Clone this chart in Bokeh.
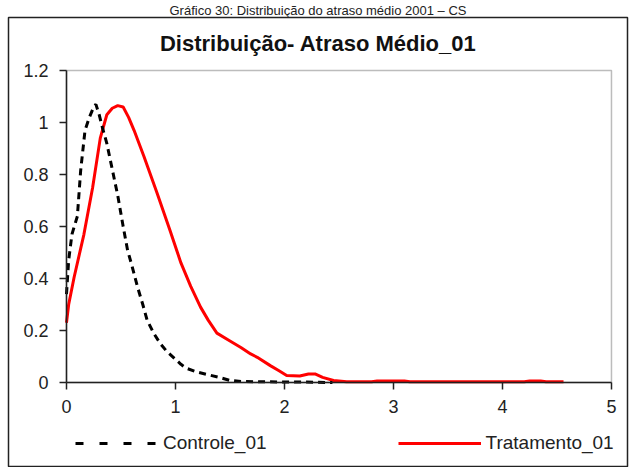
from bokeh.plotting import figure
from bokeh.models import (Range1d, FixedTicker, PrintfTickFormatter, Legend, LegendItem,
                          Label, BoxAnnotation)
from bokeh.embed import file_html
from bokeh.resources import INLINE

caption = "Gráfico 30: Distribuição do atraso médio 2001 – CS"
title_text = "Distribuição- Atraso Médio_01"
x_ticks = [0, 1, 2, 3, 4, 5]
y_ticks = [0, 0.2, 0.4, 0.6, 0.8, 1.0, 1.2]

ctrl_name = "Controle_01"
ctrl_x = [0, 0.02, 0.05, 0.1, 0.13, 0.17, 0.21, 0.25, 0.27, 0.3, 0.33, 0.37, 0.42, 0.47,
          0.52, 0.56, 0.6, 0.65, 0.7, 0.74, 0.8, 0.86, 0.92, 0.98, 1.05, 1.1, 1.2, 1.3,
          1.4, 1.5, 1.6, 1.8, 2.0, 2.2, 2.44]
ctrl_y = [0.34, 0.47, 0.57, 0.64, 0.815, 0.97, 1.02, 1.06, 1.07, 1.03, 0.98, 0.92, 0.82, 0.72,
          0.6, 0.51, 0.45, 0.37, 0.3, 0.24, 0.19, 0.15, 0.12, 0.097, 0.07, 0.055, 0.04, 0.03,
          0.02, 0.008, 0.004, 0.003, 0.002, 0.002, 0.0]

treat_name = "Tratamento_01"
treat_x = [0, 0.02, 0.07, 0.16, 0.24, 0.31, 0.37, 0.42, 0.47, 0.52, 0.57, 0.62, 0.71, 0.83,
           0.95, 1.05, 1.14, 1.23, 1.3, 1.38, 1.5, 1.6, 1.69, 1.75, 1.87, 1.95, 2.02, 2.14,
           2.22, 2.28, 2.35, 2.45, 2.57, 2.8, 2.85, 3.1, 3.15, 4.2, 4.25, 4.35, 4.4, 4.56]
treat_y = [0.23, 0.3, 0.405, 0.57, 0.75, 0.94, 1.03, 1.055, 1.065, 1.06, 1.02, 0.97, 0.87, 0.73,
           0.585, 0.46, 0.37, 0.29, 0.24, 0.19, 0.16, 0.135, 0.11, 0.097, 0.065, 0.045, 0.027, 0.025,
           0.033, 0.033, 0.02, 0.008, 0.003, 0.003, 0.006, 0.006, 0.003, 0.003, 0.006, 0.006, 0.003, 0.003]

FONT = "Liberation Sans"
INK = "#222222"

# the frame is the whole chart area (outer box); the data window 0..5 x 0..1.2 sits inside it
X0, X1 = 0, 5
Y0, Y1 = 0, 1.2
p = figure(width=634, height=467, output_backend="svg", toolbar_location=None,
           x_range=Range1d(X0 - 0.532, X1 + 0.147), y_range=Range1d(Y0 - 0.323, Y1 + 0.204),
           min_border_left=8, min_border_right=7, min_border_top=17, min_border_bottom=1)
p.xgrid.visible = False
p.ygrid.visible = False
p.outline_line_color = INK
p.outline_line_width = 1.5
p.background_fill_color = "white"
p.border_fill_color = "white"

p.title.text = caption
p.title.align = "center"
p.title.text_font = FONT
p.title.text_font_style = "normal"
p.title.text_font_size = "13px"
p.title.text_color = INK
p.title.standoff = 0

for ax in (p.xaxis, p.yaxis):
    ax.axis_line_color = INK
    ax.axis_line_width = 1.5
    ax.major_tick_line_color = INK
    ax.major_tick_line_width = 1.5
    ax.major_tick_in = 0
    ax.major_tick_out = 7
    ax.minor_tick_line_color = None
    ax.major_label_text_font = FONT
    ax.major_label_text_font_size = "18px"
    ax.major_label_text_color = INK
    ax.formatter = PrintfTickFormatter(format="%g")
p.xaxis.ticker = FixedTicker(ticks=x_ticks)
p.yaxis.ticker = FixedTicker(ticks=y_ticks)
p.xaxis.fixed_location = Y0
p.yaxis.fixed_location = X0
p.xaxis.bounds = (X0, X1)
p.yaxis.bounds = (Y0, Y1)
p.xaxis.major_label_standoff = 10
p.yaxis.major_label_standoff = 11

# plot-area border
p.add_layout(BoxAnnotation(left=X0, right=X1, bottom=Y0, top=Y1, fill_color=None,
                           line_color=INK, line_width=1.5))

r_treat = p.line(treat_x, treat_y, line_color="#FF0000", line_width=3)
r_ctrl = p.line(ctrl_x, ctrl_y, line_color="black", line_width=3, line_dash="7 5")
# legend key for the dashed series (one point only, so nothing is drawn in the plot)
r_ctrl_key = p.line(ctrl_x[:1], ctrl_y[:1], line_color="black", line_width=3, line_dash="8 16")

legend = Legend(items=[LegendItem(label=ctrl_name, renderers=[r_ctrl_key]),
                       LegendItem(label=treat_name, renderers=[r_treat])],
                location=(67, 12), orientation="horizontal",
                glyph_width=83, glyph_height=20, label_standoff=5, spacing=131,
                padding=0, margin=0, border_line_color=None, background_fill_alpha=0,
                label_text_font=FONT, label_text_font_size="19px", label_text_color=INK)
p.add_layout(legend, "center")

p.add_layout(Label(x=2.31, y=1.304, text=title_text, text_align="center", text_baseline="middle",
                   text_font=FONT, text_font_style="bold", text_font_size="22px",
                   text_color="#111111"))

open("out.html", "w").write(file_html(p, INLINE))
